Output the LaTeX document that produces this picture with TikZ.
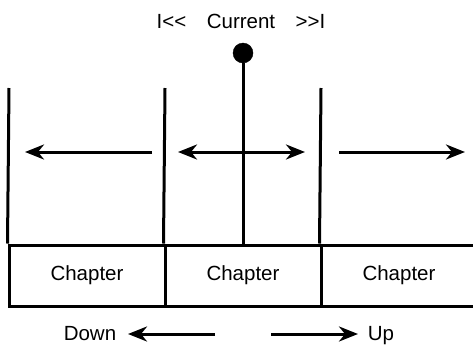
\documentclass[tikz,border=0pt]{standalone}
\usepackage{fontspec}
\setmainfont{Liberation Sans}[Ligatures=NoCommon]
\usetikzlibrary{arrows.meta, positioning}

\begin{document}
\begin{tikzpicture}[
  x=1pt, y=-1pt,
  every node/.style={font=\fontsize{20.5}{24}\selectfont, inner sep=0pt},
  chapbox/.style={draw, line width=3pt, minimum width=156pt,
                  minimum height=61pt},
  wall/.style={line width=3pt},
  arr/.style={-{Stealth[length=19pt, width=15pt, inset=6pt]}, line width=3pt},
  darr/.style={{Stealth[length=19pt, width=15pt, inset=6pt]}-{Stealth[length=19pt, width=15pt, inset=6pt]}, line width=3pt}
]
  \useasboundingbox (0,0) rectangle (473,346);

  % Chapters
  \node[chapbox] (ch1) at (87,275.5)  {Chapter};
  \node[chapbox] (ch2) at (243,275.5) {Chapter};
  \node[chapbox] (ch3) at (399,275.5) {Chapter};

  % Walls above the chapters
  \coordinate (w1) at (9,88);
  \coordinate (w2) at (165,88);
  \coordinate (w3) at (321,88);
  \draw[wall] (ch1.north west) -- (w1);
  \draw[wall] (ch2.north west) -- (w2);
  \draw[wall] (ch3.north west) -- (w3);

  % Current marker
  \node[draw, fill, circle, minimum size=20pt] (dot) at (243,53) {};
  \node[anchor=base] (cur) at (241,28)
       {I<{}<\hspace{1em}Current\hspace{1em}>{}>I};
  \draw[wall] (ch2.north) -- (dot);

  % Arrows in the rooms
  \coordinate (a1) at (152,152);  \coordinate (b1) at (25,152);
  \coordinate (a2) at (178,152);  \coordinate (b2) at (305,152);
  \coordinate (a3) at (339,152);  \coordinate (b3) at (465,152);
  \draw[arr]  (a1) -- (b1);
  \draw[darr] (a2) -- (b2);
  \draw[arr]  (a3) -- (b3);

  % Down / Up
  \node[anchor=base] (down) at (90,340) {Down};
  \node[anchor=base] (up)   at (381,340) {Up};
  \coordinate (ds) at (215,334);  \coordinate (dt) at (128,334);
  \coordinate (us) at (271,334);  \coordinate (ut) at (358,334);
  \draw[arr] (ds) -- (dt);
  \draw[arr] (us) -- (ut);
\end{tikzpicture}
\end{document}
